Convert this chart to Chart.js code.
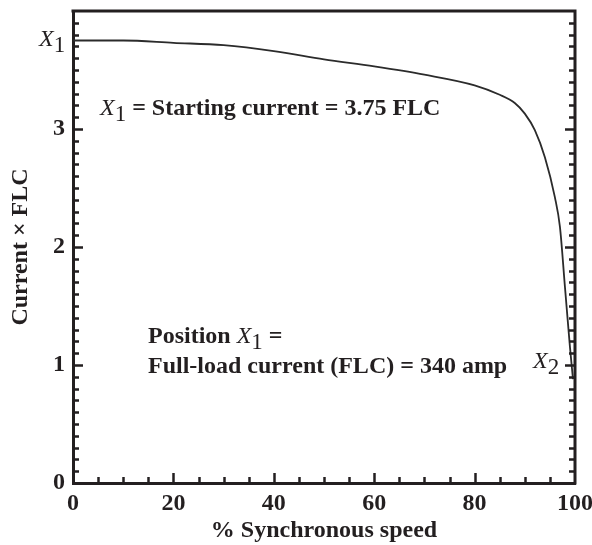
<!DOCTYPE html>
<html>
<head>
<meta charset="utf-8">
<title>Current vs synchronous speed</title>
<script src="https://cdn.jsdelivr.net/npm/chart.js@4.4.1/dist/chart.umd.min.js"></script>
<style>
  html, body { margin: 0; padding: 0; background: #fff; }
  #wrap { width: 592px; height: 545px; }
</style>
</head>
<body>
<div id="wrap"><canvas id="chart" width="592" height="545"></canvas></div>
<script>
// data
const speed   = [0, 10, 20, 30, 40, 50, 60, 70, 80, 85, 88, 90, 92, 94, 96, 97, 98, 99, 99.6];
const current = [3.75, 3.75, 3.73, 3.71, 3.66, 3.59, 3.53, 3.46, 3.37, 3.29, 3.22, 3.13, 2.99, 2.76, 2.42, 2.17, 1.66, 1.15, 0.88];

const xTicks = [0, 20, 40, 60, 80, 100];
const yTicks = [0, 1, 2, 3];
const xMinorStep = 5;
const yMinorStep = 0.1;

const INK   = '#231f20';
const SERIF = "'Liberation Serif', 'Times New Roman', serif";

// text made of pieces: [text, style, dy]
function drawPieces(ctx, pieces, x, y) {
  let cx = x;
  pieces.forEach(([txt, style, dy]) => {
    ctx.font = style;
    ctx.fillText(txt, cx, y + dy);
    cx += ctx.measureText(txt).width;
  });
}

const IT  = 'italic 24px ' + SERIF;
const SUB = '23px ' + SERIF;
const BD  = 'bold 24px ' + SERIF;

// no automatic room for overhanging tick labels
function noPad(s) {
  s.paddingTop = s.paddingBottom = s.paddingLeft = s.paddingRight = 0;
}

// frame, inward ticks and the notes on the chart
const decor = {
  id: 'decor',
  afterDatasetsDraw(chart) {
    const { ctx, chartArea: a, scales: { x, y } } = chart;
    ctx.save();
    ctx.strokeStyle = INK;
    ctx.lineCap = 'butt';

    // top and right side of the box
    ctx.lineWidth = 3;
    ctx.beginPath();
    ctx.moveTo(a.left - 1.5, a.top);
    ctx.lineTo(a.right, a.top);
    ctx.lineTo(a.right, a.bottom + 1.5);
    ctx.stroke();

    // y ticks on both sides
    ctx.lineWidth = 2.5;
    for (let i = 1; i < 40; i++) {
      const v = i * yMinorStep;
      const py = Math.round(y.getPixelForValue(v)) + 0.5;
      const len = (i % 10 === 0) ? 10 : 6;
      ctx.beginPath();
      ctx.moveTo(a.left, py); ctx.lineTo(a.left + len, py);
      ctx.moveTo(a.right, py); ctx.lineTo(a.right - len, py);
      ctx.stroke();
    }
    // x ticks along the bottom
    for (let v = xMinorStep; v < 100; v += xMinorStep) {
      const px = Math.round(x.getPixelForValue(v)) + 0.5;
      const len = (v % 20 === 0) ? 10 : 6;
      ctx.beginPath();
      ctx.moveTo(px, a.bottom); ctx.lineTo(px, a.bottom - len);
      ctx.stroke();
    }

    // notes
    ctx.fillStyle = INK;
    ctx.textBaseline = 'alphabetic';
    ctx.textAlign = 'left';
    drawPieces(ctx, [['X', IT, 0], ['1', SUB, 6]], 39, y.getPixelForValue(3.75) + 5);
    drawPieces(ctx, [['X', IT, 0], ['1', SUB, 6], [' = Starting current = 3.75 FLC', BD, 0]], 100, 115);
    drawPieces(ctx, [['Position ', BD, 0], ['X', IT, 0], ['1', SUB, 6], [' =', BD, 0]], 148, 343);
    drawPieces(ctx, [['Full-load current (FLC) = 340 amp', BD, 0]], 148, 373);
    drawPieces(ctx, [['X', IT, 0], ['2', SUB, 6]], 533, 368);
    ctx.restore();
  }
};

new Chart(document.getElementById('chart'), {
  type: 'line',
  data: {
    datasets: [{
      data: speed.map((s, i) => ({ x: s, y: current[i] })),
      borderColor: '#2b2b2b',
      borderWidth: 1.8,
      pointRadius: 0,
      fill: false,
      cubicInterpolationMode: 'monotone'
    }]
  },
  options: {
    responsive: false,
    animation: false,
    events: [],
    layout: { autoPadding: false, padding: { top: 11, right: 17, left: 0, bottom: 0 } },
    plugins: { legend: { display: false }, tooltip: { enabled: false } },
    scales: {
      x: {
        type: 'linear',
        min: 0, max: 100,
        afterFit: s => { s.height = 62; noPad(s); },
        afterBuildTicks: s => { s.ticks = xTicks.map(v => ({ value: v })); },
        grid: { display: false, drawTicks: false },
        border: { display: true, color: INK, width: 3 },
        ticks: { color: INK, padding: 6, maxRotation: 0, font: { family: SERIF, size: 24, weight: 'bold' } },
        title: {
          display: true, text: '% Synchronous speed', color: INK,
          font: { family: SERIF, size: 24, weight: 'bold' },
          padding: { top: 1, bottom: 0 }
        }
      },
      y: {
        min: 0, max: 4,
        afterFit: s => { s.width = 73; noPad(s); },
        afterBuildTicks: s => { s.ticks = yTicks.map(v => ({ value: v })); },
        grid: { display: false, drawTicks: false },
        border: { display: true, color: INK, width: 3 },
        ticks: { color: INK, padding: 8, font: { family: SERIF, size: 24, weight: 'bold' } },
        title: {
          display: true, text: 'Current × FLC', color: INK,
          font: { family: SERIF, size: 24, weight: 'bold' },
          padding: { top: 6, bottom: 0 }
        }
      }
    }
  },
  plugins: [decor]
});
</script>
</body>
</html>
